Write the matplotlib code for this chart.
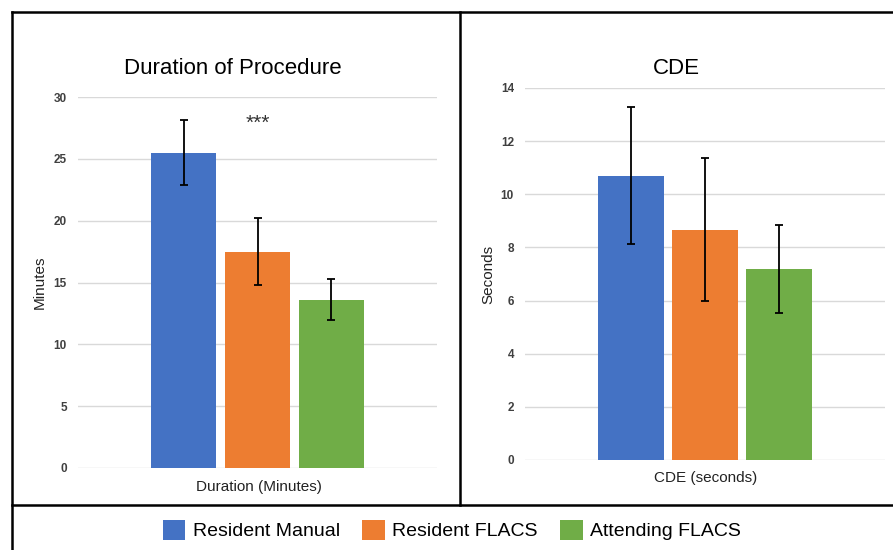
import matplotlib
matplotlib.use("Agg")
import matplotlib.pyplot as plt
from matplotlib.lines import Line2D
from matplotlib.patches import Patch

plt.rcParams['font.family'] = ['Liberation Sans', 'DejaVu Sans']

groups = ["Resident Manual", "Resident FLACS", "Attending FLACS"]
colors = ["#4472C4", "#ED7D31", "#70AD47"]

duration_mean = [25.5, 17.5, 13.6]
duration_err = [2.6, 2.7, 1.65]
duration_ticks = [0, 5, 10, 15, 20, 25, 30]

cde_mean = [10.7, 8.67, 7.19]
cde_err = [2.57, 2.7, 1.67]
cde_ticks = [0, 2, 4, 6, 8, 10, 12, 14]

W, H = 893, 550
fig = plt.figure(figsize=(W / 100, H / 100), dpi=100)


def fx(px):
    return px / W


def fy(py):
    return 1 - py / H


def panel(rect, means, errs, ticks, ymax, title, xlabel, ylabel, xlim, title_x, title_y, xl_y, yl_x):
    ax = fig.add_axes(rect)
    x = list(range(len(means)))
    ax.bar(x, means, width=0.885, color=colors, zorder=2)
    ax.errorbar(x, means, yerr=errs, fmt='none', ecolor='black', elinewidth=1.3,
                capsize=3, capthick=1.3, zorder=3)
    ax.set_xlim(*xlim)
    ax.set_ylim(0, ymax)
    ax.set_yticks(ticks)
    ax.set_yticklabels([str(t) for t in ticks], fontsize=8.5, color='#404040', fontweight='bold')
    ax.set_xticks([])
    ax.tick_params(axis='y', length=0, pad=8)
    for s in ax.spines.values():
        s.set_visible(False)
    ax.yaxis.grid(True, color='#D9D9D9', linewidth=1.0, zorder=0)
    ax.set_axisbelow(True)
    fig.text(title_x, title_y, title, ha='center', va='center', fontsize=16)
    fig.text(rect[0] + rect[2] / 2 + fx(1), xl_y, xlabel, ha='center', va='center', fontsize=11, color='#222222')
    fig.text(yl_x, rect[1] + rect[3] / 2, ylabel, ha='center', va='center', rotation=90,
             fontsize=11, color='#222222')
    return ax


ax1 = panel([fx(78), fy(468), fx(437 - 78), (468 - 97) / H], duration_mean, duration_err,
            duration_ticks, 30, "Duration of Procedure", "Duration (Minutes)", "Minutes",
            (-1.426, 3.426), fx(233), fy(68), fy(487), fx(40))
ax1.text(1, 27.85, "***", ha='center', va='center', fontsize=15, color='#333333')

ax2 = panel([fx(525), fy(460), fx(885 - 525), (460 - 88) / H], cde_mean, cde_err,
            cde_ticks, 14, "CDE", "CDE (seconds)", "Seconds",
            (-1.432, 3.432), fx(676), fy(68), fy(478), fx(488))

# borders
lw = 1.8
fig.add_artist(Line2D([fx(12), fx(12)], [fy(12), 0], color='black', lw=lw))
fig.add_artist(Line2D([fx(12), 1], [fy(12), fy(12)], color='black', lw=lw))
fig.add_artist(Line2D([fx(12), 1], [fy(505), fy(505)], color='black', lw=lw))
fig.add_artist(Line2D([fx(460), fx(460)], [fy(12), fy(505)], color='black', lw=lw))

handles = [Patch(facecolor=c, edgecolor='none') for c in colors]
fig.legend(handles, groups, loc='center', bbox_to_anchor=(fx(452), fy(530)), ncol=3,
           frameon=False, fontsize=14, handlelength=1.15, handleheight=1.2,
           handletextpad=0.4, columnspacing=1.15)

fig.savefig("out.png", dpi=100)
